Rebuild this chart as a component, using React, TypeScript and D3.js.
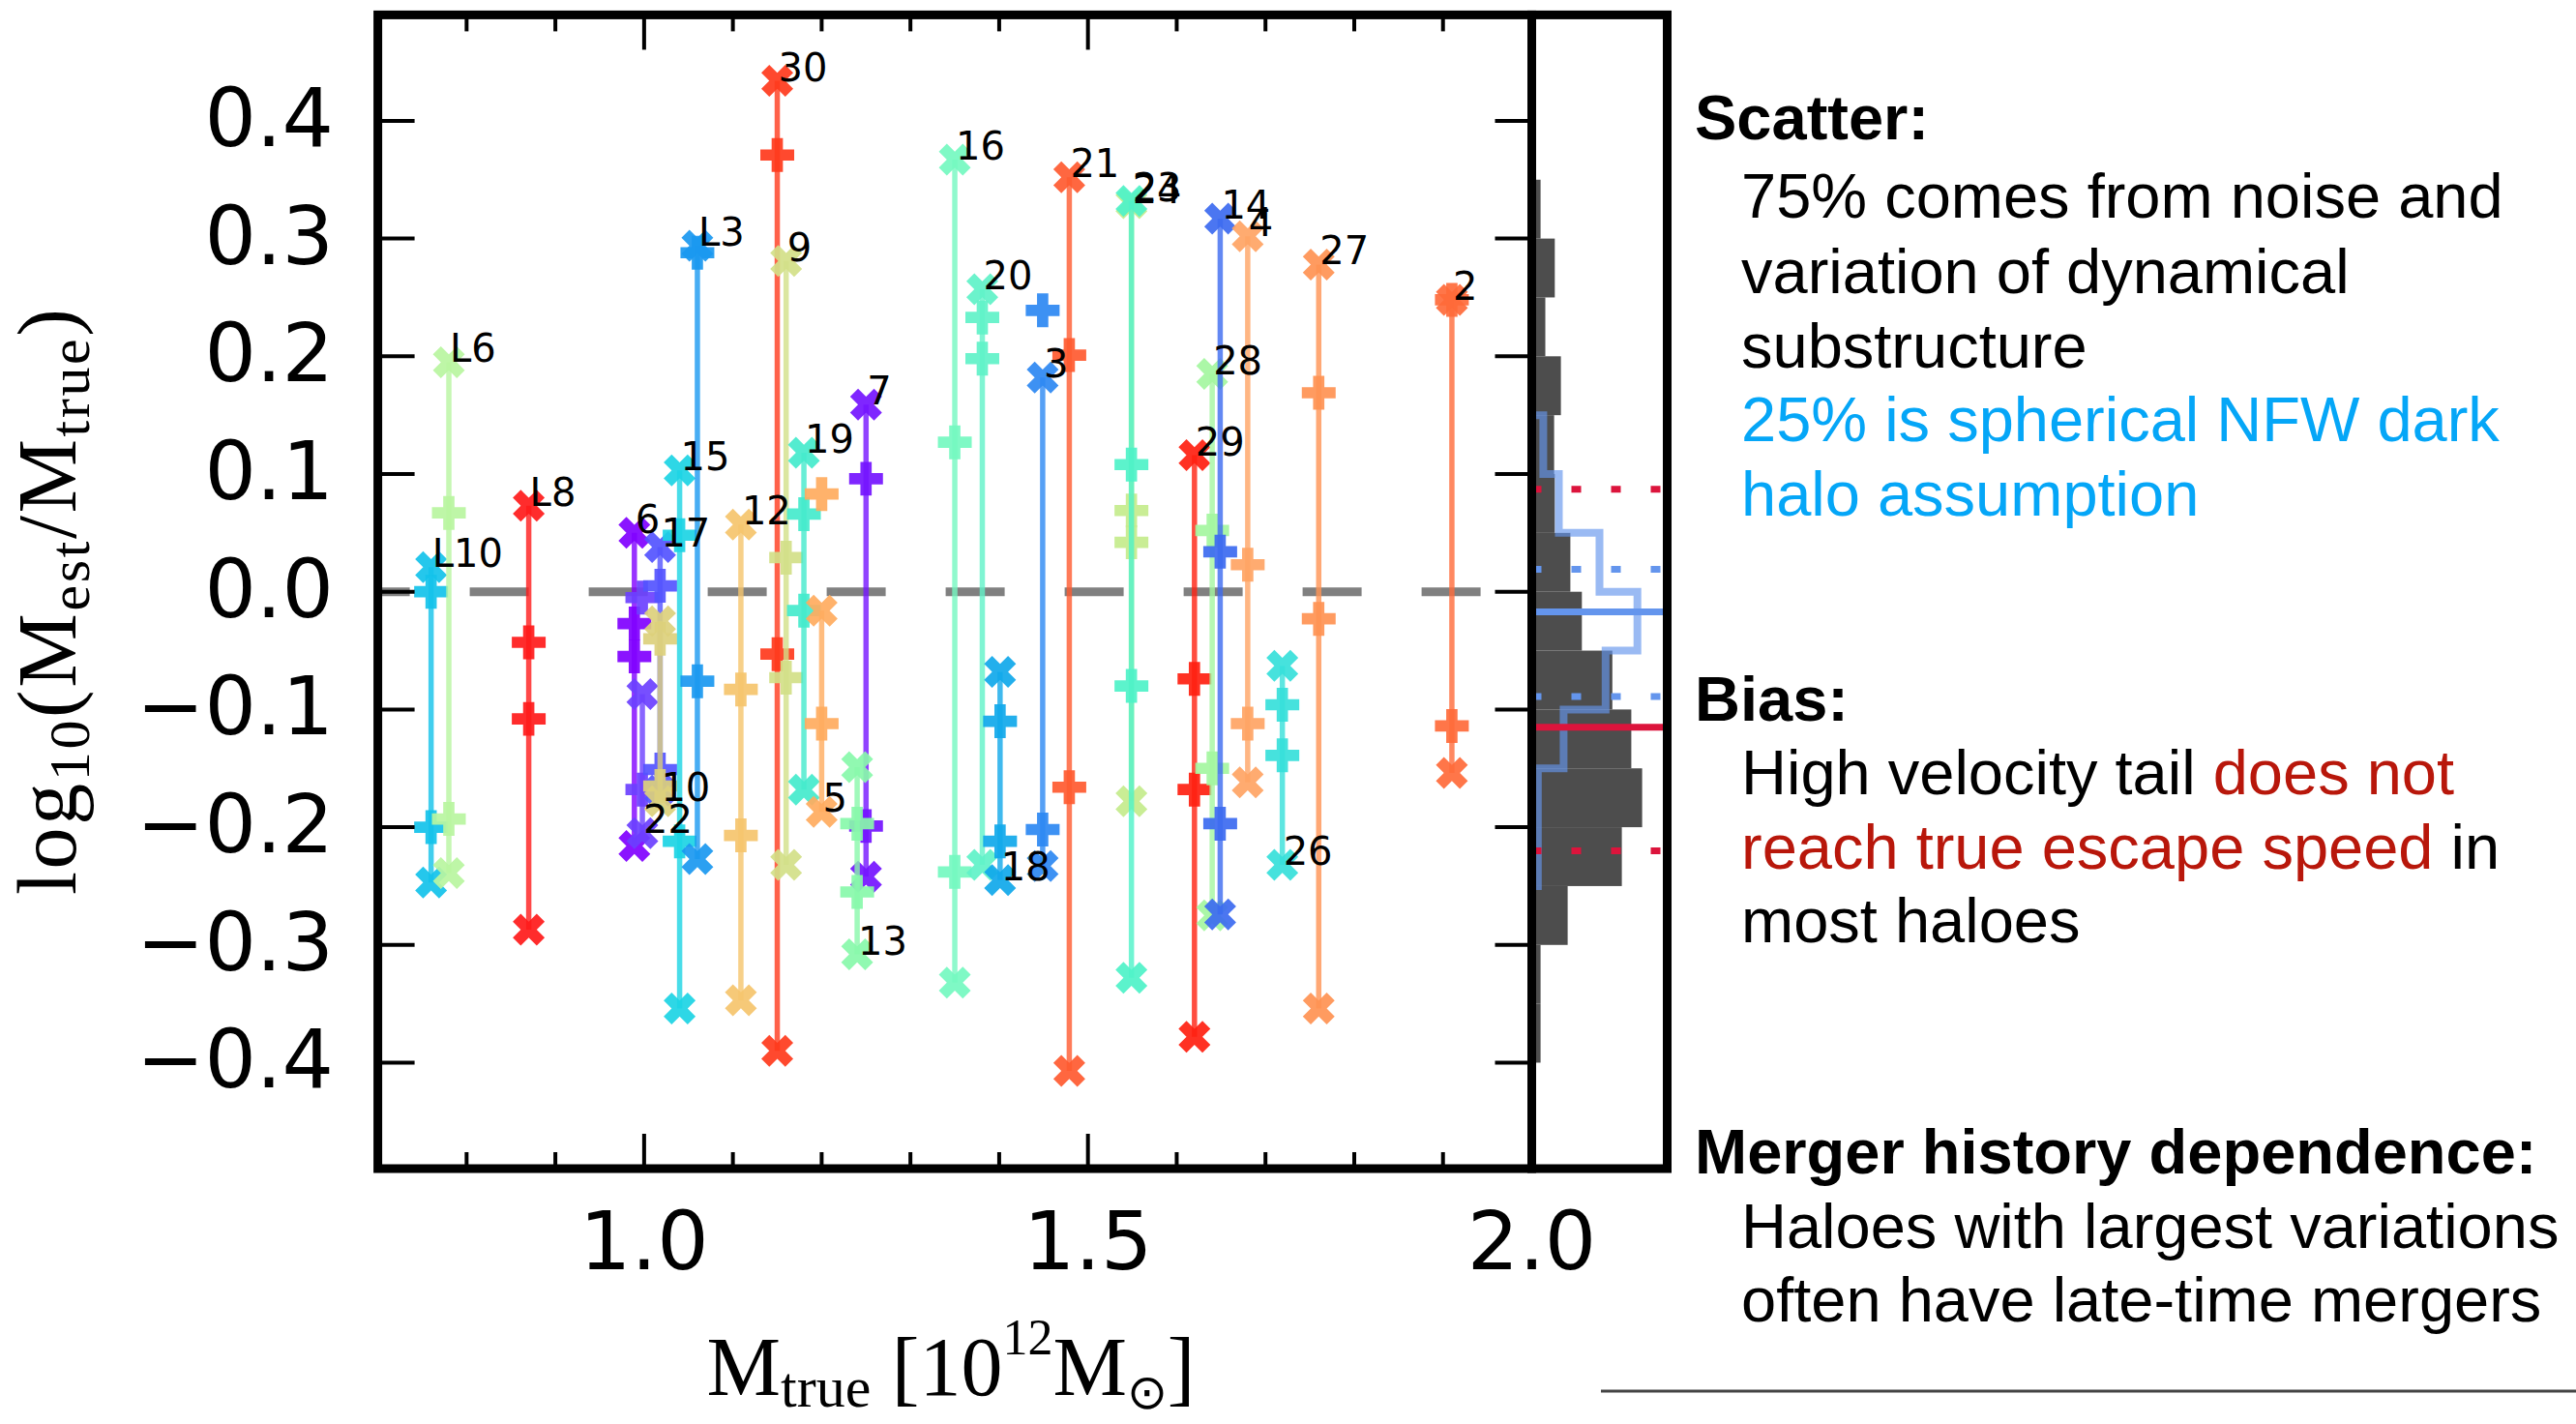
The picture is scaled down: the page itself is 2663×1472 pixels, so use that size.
import * as d3 from "d3";

// halo sample (M_true in 1e12 Msun, log10 ratios)
const haloNames = ["L10", "L6", "L8", "6", "22", "17", "10", "15", "L3", "12", "30", "9", "19", "5", "7", "13", "16", "20", "18", "3", "21", "24", "23", "29", "28", "14", "4", "26", "27", "2"];
const haloMass = [0.760, 0.780, 0.870, 0.989, 0.998, 1.018, 1.018, 1.040, 1.060, 1.109, 1.150, 1.160, 1.180, 1.200, 1.250, 1.240, 1.350, 1.381, 1.401, 1.449, 1.479, 1.549, 1.549, 1.620, 1.640, 1.649, 1.680, 1.719, 1.760, 1.910];
// first cross carries the label, the vertical line joins the two crosses
const crossA = [0.021, 0.195, 0.073, 0.050, -0.205, 0.038, -0.178, 0.103, 0.294, 0.057, 0.434, 0.281, 0.118, -0.187, 0.159, -0.308, 0.367, 0.257, -0.245, 0.182, 0.352, 0.330, 0.332, 0.116, 0.185, 0.317, 0.302, -0.232, 0.278, 0.248];
const crossB = [-0.247, -0.239, -0.287, -0.216, -0.087, -0.169, -0.025, -0.354, -0.227, -0.347, -0.390, -0.232, -0.168, -0.016, -0.242, -0.149, -0.332, -0.232, -0.068, -0.233, -0.407, -0.178, -0.328, -0.378, -0.275, -0.274, -0.162, -0.063, -0.354, -0.154];
const plusA = [0.0, 0.067, -0.043, -0.027, -0.005, 0.005, -0.040, 0.048, 0.288, -0.083, 0.371, 0.029, 0.066, 0.083, 0.096, -0.197, 0.127, 0.233, -0.110, 0.239, 0.201, 0.069, 0.108, -0.074, 0.052, 0.034, 0.023, -0.096, 0.169, 0.248];
const plusB = [-0.200, -0.193, -0.108, -0.055, -0.168, -0.151, -0.165, -0.212, -0.076, -0.207, -0.053, -0.073, -0.016, -0.112, -0.199, -0.255, -0.238, 0.198, -0.212, -0.202, -0.166, 0.042, -0.080, -0.168, -0.150, -0.197, -0.112, -0.139, -0.023, -0.114];
const haloColors = ["#12c2ea", "#b8f5a0", "#ff1a1a", "#8000ff", "#6b40ff", "#5454ff", "#dcd07c", "#1cd4e4", "#1a98f0", "#f5c46c", "#ff3a1c", "#d2e088", "#44eacc", "#ffab5e", "#7414ff", "#88f8aa", "#74f8c0", "#60f2c8", "#10a8ea", "#2c88f2", "#ff5a30", "#c4ec8c", "#4ef2c8", "#ff2010", "#a4f6a0", "#3c6af0", "#ffa464", "#36e0da", "#ff9252", "#ff6a3a"];

// side histogram (bins of 0.05, given by lower edge)
const grayBinLo = [0.30, 0.25, 0.20, 0.15, 0.10, 0.05, 0.0, -0.05, -0.10, -0.15, -0.20, -0.25, -0.30, -0.35, -0.40];
const grayDensity = [1.3, 3.4, 2.0, 4.3, 3.3, 3.4, 5.7, 7.4, 11.9, 14.7, 16.3, 13.3, 5.3, 1.3, 1.3];
const blueBinLo = [0.10, 0.05, 0.0, -0.05, -0.10, -0.15, -0.20, -0.25];
const blueDensity = [1.7, 4.0, 10.0, 15.6, 10.9, 4.7, 0.9, 0.9];
const binWidth = 0.05;

const blueMean = -0.017;
const blueSpread = [0.019, -0.089];
const redMean = -0.115;
const redSpread = [0.087, -0.220];

const yTickValues = [-0.4, -0.3, -0.2, -0.1, 0.0, 0.1, 0.2, 0.3, 0.4];
const xMajorValues = [1.0, 1.5, 2.0];

const W = 2663;
const H = 1472;
const left = 390.6;
const right = 1583.5;
const top = 15.4;
const bottom = 1208;
const histRight = 1723.5;

const x = d3.scaleLinear().domain([0.7, 2.0]).range([left, right]);
const y = d3.scaleLinear().domain([-0.49, 0.49]).range([bottom, top]);
const hx = d3.scaleLinear().domain([0, 20]).range([right, histRight]);

const plusPath = d3.symbol(d3.symbolCross, 680)() as string;
const crossPath = plusPath;

function fmt(v: number) {
  const s = Math.abs(v).toFixed(1);
  return v < -1e-9 ? "\u2212" + s : s;
}

export default function App() {
  const xTicks = x.ticks(13);
  const isMajor = (v: number) => xMajorValues.some((m) => Math.abs(m - v) < 1e-6);

  const blueStep: [number, number][] = [[hx(0), y(blueBinLo[0] + binWidth)]];
  blueBinLo.forEach((lo, i) => {
    blueStep.push([hx(blueDensity[i]), y(lo + binWidth)]);
    blueStep.push([hx(blueDensity[i]), y(lo)]);
  });
  blueStep.push([hx(0), y(blueBinLo[blueBinLo.length - 1])]);
  const stepLine = d3.line();

  const serif = "'Liberation Serif', 'DejaVu Serif', serif";
  const sans = "'DejaVu Sans', sans-serif";
  const helv = "'Liberation Sans', Arial, sans-serif";
  const red = "#b8170b";
  const blue = "#05a6f7";

  return (
    <svg width={W} height={H} style={{ position: "absolute", left: 0, top: 0, background: "#fff" }}>
      <rect x={0} y={0} width={W} height={H} fill="#fff" />

      {/* zero line */}
      <line x1={left} x2={right} y1={y(0)} y2={y(0)} stroke="#808080" strokeWidth={9}
        strokeDasharray="61 62" strokeDashoffset={28} />

      {/* halos */}
      {haloNames.map((name, i) => {
        const cx = x(haloMass[i]);
        return (
          <g key={name + i}>
            <line x1={cx} x2={cx} y1={y(crossA[i])} y2={y(crossB[i])} stroke={haloColors[i]}
              strokeWidth={5.5} strokeOpacity={0.8} />
            {[crossA[i], crossB[i]].map((v, k) => (
              <path key={"c" + k} d={crossPath} transform={`translate(${cx},${y(v)}) rotate(45)`}
                fill={haloColors[i]} fillOpacity={0.92} />
            ))}
            {[plusA[i], plusB[i]].map((v, k) => (
              <path key={"p" + k} d={plusPath} transform={`translate(${cx},${y(v)})`}
                fill={haloColors[i]} fillOpacity={0.92} />
            ))}
          </g>
        );
      })}
      {haloNames.map((name, i) => (
        <text key={"t" + name} x={x(haloMass[i]) + 1} y={y(crossA[i])} fontFamily={sans} fontSize={40}
          fill="#000">{name}</text>
      ))}

      {/* side histogram */}
      {grayBinLo.map((lo, i) => (
        <rect key={"g" + i} x={hx(0)} y={y(lo + binWidth)} width={hx(grayDensity[i]) - hx(0)}
          height={y(lo) - y(lo + binWidth)} fill="#4d4d4d" />
      ))}
      <path d={stepLine(blueStep) as string} fill="none" stroke="#6495ed" strokeOpacity={0.65}
        strokeWidth={8} />
      {redSpread.map((v, i) => (
        <line key={"rd" + i} x1={right} x2={histRight} y1={y(v)} y2={y(v)} stroke="#dc143c"
          strokeWidth={7} strokeDasharray="10 31" />
      ))}
      {blueSpread.map((v, i) => (
        <line key={"bd" + i} x1={right} x2={histRight} y1={y(v)} y2={y(v)} stroke="#6495ed"
          strokeWidth={7} strokeDasharray="10 31" />
      ))}
      <line x1={right} x2={histRight} y1={y(blueMean)} y2={y(blueMean)} stroke="#6495ed" strokeWidth={7} />
      <line x1={right} x2={histRight} y1={y(redMean)} y2={y(redMean)} stroke="#dc143c" strokeWidth={7} />

      {/* ticks */}
      {yTickValues.map((v) => (
        <g key={"yt" + v}>
          <line x1={left} x2={left + 38} y1={y(v)} y2={y(v)} stroke="#000" strokeWidth={4} />
          <line x1={right - 38} x2={right} y1={y(v)} y2={y(v)} stroke="#000" strokeWidth={4} />
          <text x={345} y={y(v) + 26} textAnchor="end" fontFamily={sans} fontSize={84}>{fmt(v)}</text>
        </g>
      ))}
      {xTicks.map((v) => {
        const len = isMajor(v) ? 36 : 17;
        return (
          <g key={"xt" + v}>
            <line x1={x(v)} x2={x(v)} y1={top} y2={top + len} stroke="#000" strokeWidth={4} />
            <line x1={x(v)} x2={x(v)} y1={bottom} y2={bottom - len} stroke="#000" strokeWidth={4} />
          </g>
        );
      })}
      {xMajorValues.map((v) => (
        <text key={"xl" + v} x={x(v)} y={1312} textAnchor="middle" fontFamily={sans} fontSize={84}>
          {v.toFixed(1)}
        </text>
      ))}

      {/* frames */}
      <rect x={left} y={top} width={right - left} height={bottom - top} fill="none" stroke="#000" strokeWidth={9} />
      <rect x={right} y={top} width={histRight - right} height={bottom - top} fill="none" stroke="#000" strokeWidth={9} />

      {/* axis labels */}
      <text x={983} y={1442} textAnchor="middle" fontFamily={serif} fontSize={86}>
        M<tspan fontSize={60} dy={12}>true</tspan>
        <tspan dy={-12}> [10</tspan>
        <tspan fontSize={52} dy={-42}>12</tspan>
        <tspan dy={42}>M</tspan>
        <tspan fontSize={50} dy={14} fontFamily={sans}>{"\u2299"}</tspan>
        <tspan dy={-14}>]</tspan>
      </text>
      <g transform="translate(78,622) rotate(-90)">
        <text x={0} y={0} textAnchor="middle" fontFamily={serif} fontSize={86} textLength={606}
          lengthAdjust="spacing">
          log<tspan fontSize={60} dy={14}>10</tspan>
          <tspan dy={-14}>(M</tspan>
          <tspan fontSize={60} dy={14}>est</tspan>
          <tspan dy={-14}>/M</tspan>
          <tspan fontSize={60} dy={14}>true</tspan>
          <tspan dy={-14}>)</tspan>
        </text>
      </g>

      {/* annotations */}
      <g fontFamily={helv} fontSize={65} fill="#000">
        <text x={1752} y={144} fontWeight="bold">Scatter:</text>
        <text x={1800} y={225}>75% comes from noise and</text>
        <text x={1800} y={303}>variation of dynamical</text>
        <text x={1800} y={380}>substructure</text>
        <text x={1800} y={456} fill={blue}>25% is spherical NFW dark</text>
        <text x={1800} y={533} fill={blue}>halo assumption</text>
        <text x={1752} y={745} fontWeight="bold">Bias:</text>
        <text x={1800} y={821}>High velocity tail <tspan fill={red}>does not</tspan></text>
        <text x={1800} y={898}><tspan fill={red}>reach true escape speed</tspan> in</text>
        <text x={1800} y={974}>most haloes</text>
        <text x={1752} y={1213} fontWeight="bold">Merger history dependence:</text>
        <text x={1800} y={1290}>Haloes with largest variations</text>
        <text x={1800} y={1366}>often have late-time mergers</text>
      </g>
      <line x1={1655} x2={W} y1={1438} y2={1438} stroke="#444" strokeWidth={3} />
    </svg>
  );
}
